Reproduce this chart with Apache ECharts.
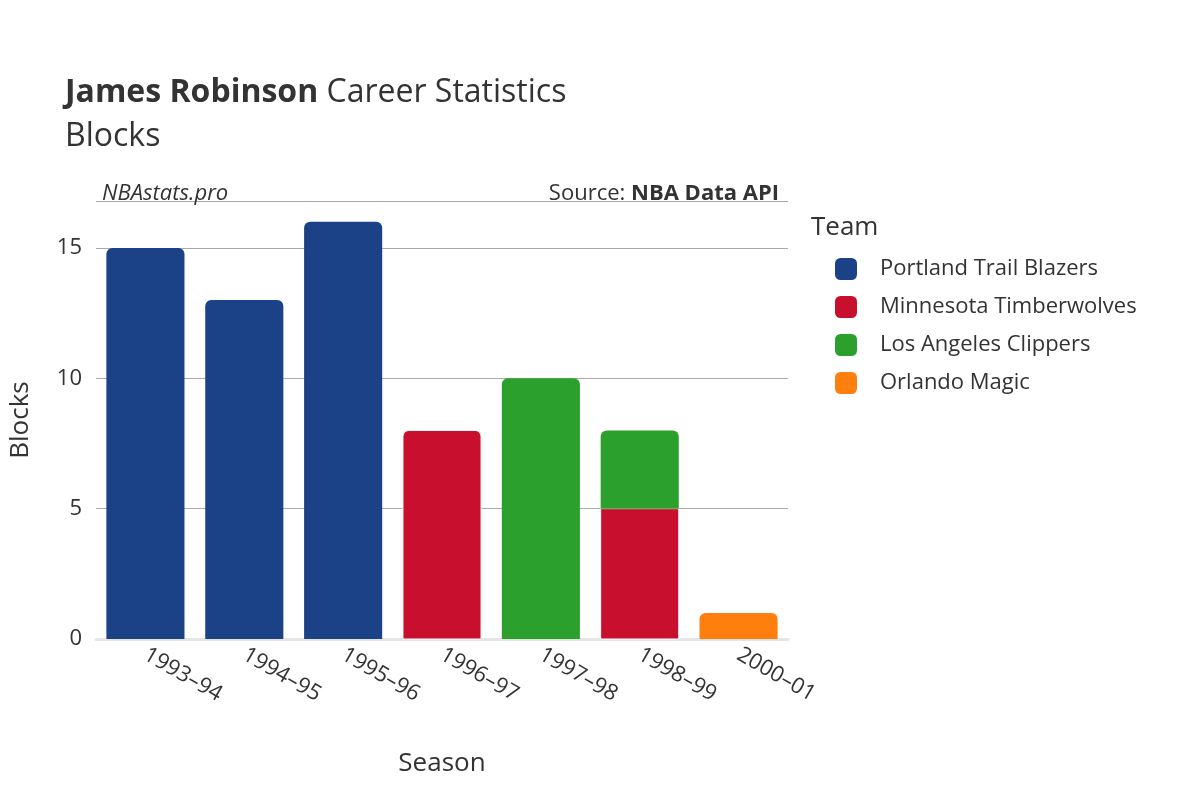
<!DOCTYPE html>
<html>
<head>
<meta charset="UTF-8">
<script src="https://cdn.jsdelivr.net/npm/echarts@6/dist/echarts.min.js"></script>
</head>
<body style="margin:0">
<div id="main" style="width:1200px;height:800px;"></div>
<script>
var seasons = ['1993–94', '1994–95', '1995–96', '1996–97', '1997–98', '1998–99', '2000–01'];
var portland = [15, 13, 16, null, null, null, null];
var minnesota = [null, null, null, 8, null, 5, null];
var clippers = [null, null, null, null, 10, 3, null];
var orlando = [null, null, null, null, null, null, 1];
var yTicks = [0, 5, 10, 15];

var chart = echarts.init(document.getElementById('main'));
var font = 'Open Sans, DejaVu Sans, sans-serif';
function series(name, data, color) {
    return {
        name: name, type: 'bar', stack: 'all', data: data, barWidth: '79%',
        itemStyle: { color: color, borderRadius: [6, 6, 0, 0] }
    };
}
var s = [
    series('Portland Trail Blazers', portland, '#1b4187'),
    series('Minnesota Timberwolves', minnesota, '#c8102e'),
    series('Los Angeles Clippers', clippers, '#2ca02c'),
    series('Orlando Magic', orlando, '#ff7f0e')
];
// lower part of the stacked 1998-99 bar has square top
s[1].data = minnesota.map(function (v, i) {
    return i === 5 ? { value: v, itemStyle: { borderRadius: 0 } } : v;
});
s[2].data = clippers.map(function (v, i) {
    return i === 5 ? { value: v, itemStyle: { borderRadius: [6, 6, 0, 0] } } : v;
});
s[1].itemStyle.borderColor = '#fff';

chart.setOption({
    textStyle: { fontFamily: font },
    title: [{
        text: '{b|James Robinson} Career Statistics\nBlocks',
        left: 60, top: 66,
        textStyle: { fontSize: 32, color: '#333', fontWeight: 'normal', lineHeight: 44,
            rich: { b: { fontSize: 32, fontWeight: 'bold', color: '#333' } } }
    }, {
        text: 'NBAstats.pro', left: 97, top: 178,
        textStyle: { fontSize: 22, fontStyle: 'italic', fontWeight: 'normal', color: '#333' }
    }, {
        text: 'Source: {b|NBA Data API}', right: 416, top: 178,
        textStyle: { fontSize: 22, fontWeight: 'normal', color: '#333',
            rich: { b: { fontSize: 22, fontWeight: 'bold', color: '#333' } } }
    }, {
        text: 'Team', left: 806, top: 210,
        textStyle: { fontSize: 26, fontWeight: 'normal', color: '#333' }
    }],
    legend: {
        orient: 'vertical', left: 830, top: 253, itemGap: 16,
        itemWidth: 22, itemHeight: 22, icon: 'roundRect',
        textStyle: { fontSize: 22, color: '#333', padding: [0, 0, 0, 18] },
        data: s.map(function (x) { return x.name; })
    },
    grid: { left: 92, right: 412, top: 201, bottom: 161 },
    xAxis: {
        type: 'category', data: seasons,
        name: 'Season', nameLocation: 'middle', nameGap: 112,
        nameTextStyle: { fontSize: 26, color: '#333' },
        axisLine: { lineStyle: { color: '#e5e5e5', width: 3 } },
        axisTick: { show: false },
        axisLabel: { rotate: -30, fontSize: 22, color: '#333', margin: 14 }
    },
    yAxis: {
        type: 'value', min: 0, max: 16.8, interval: 5,
        name: 'Blocks', nameLocation: 'middle', nameGap: 62,
        nameTextStyle: { fontSize: 26, color: '#333' },
        axisLine: { show: false }, axisTick: { show: false },
        axisLabel: { fontSize: 22, color: '#333', margin: 14,
            formatter: function (v) { return yTicks.indexOf(v) >= 0 ? v : ''; } },
        splitLine: { lineStyle: { color: '#aaa', width: 1 } }
    },
    series: s
});
</script>
</body>
</html>
